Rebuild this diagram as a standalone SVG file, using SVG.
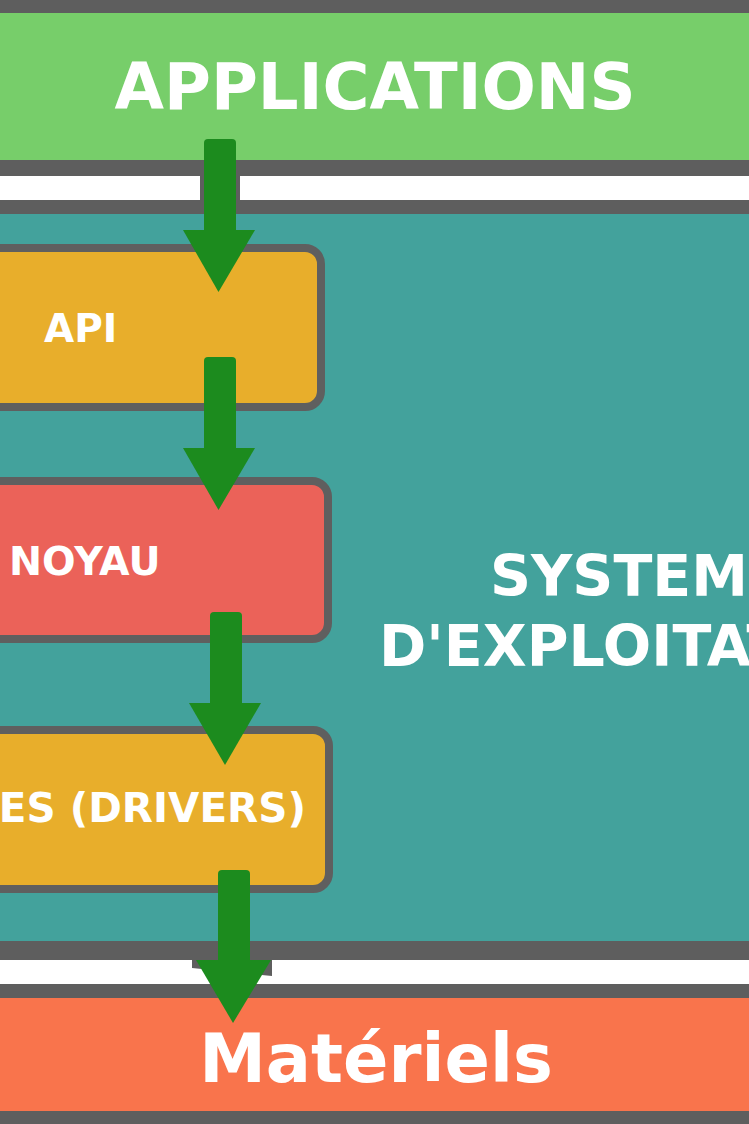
<svg xmlns="http://www.w3.org/2000/svg" width="749" height="1124" viewBox="0 0 749 1124">
<style>
.lbl{font-family:"DejaVu Sans","Liberation Sans",sans-serif;font-weight:bold;fill:#ffffff}
.box{stroke:#5f5f5f;stroke-width:8}
.shaft,.head{fill:#1c8b1e}
.gray{fill:#5e5e5e}
</style>
<rect x="0" y="0" width="749" height="1124" fill="#ffffff"/>
<g id="applications">
<rect class="gray" x="0" y="0" width="749" height="13"/>
<rect x="0" y="13" width="749" height="147" fill="#77ce6a"/>
<rect class="gray" x="0" y="160" width="749" height="16"/>
<text class="lbl" x="375" y="109" font-size="64" text-anchor="middle">APPLICATIONS</text>
</g>
<g id="systeme">
<rect class="gray" x="0" y="200" width="749" height="14"/>
<rect x="0" y="214" width="749" height="728" fill="#43a29c"/>
<rect class="gray" x="0" y="941" width="749" height="19"/>
<text class="lbl" x="490" y="596" font-size="57">SYSTEM</text>
<text class="lbl" x="379" y="666" font-size="57">D'EXPLOITAT</text>
</g>
<g id="api">
<rect class="box" x="-40" y="248" width="361" height="159" rx="16" fill="#e8ae2b"/>
<text class="lbl" x="44" y="342" font-size="39">API</text>
</g>
<g id="noyau">
<rect class="box" x="-40" y="481" width="368" height="158" rx="16" fill="#eb6259"/>
<text class="lbl" x="9" y="575" font-size="39.5">NOYAU</text>
</g>
<g id="drivers">
<rect class="box" x="-40" y="730" width="369" height="159" rx="16" fill="#e8ae2b"/>
<text class="lbl" x="306" y="822" font-size="40.5" text-anchor="end">ES (DRIVERS)</text>
</g>
<g id="materiels">
<rect class="gray" x="0" y="984" width="749" height="14"/>
<rect x="0" y="998" width="749" height="113" fill="#f9744c"/>
<rect class="gray" x="0" y="1111" width="749" height="13"/>
<text class="lbl" x="376" y="1082" font-size="67" text-anchor="middle">Matériels</text>
</g>
<g id="connectors">
<rect class="gray" x="200" y="176" width="40" height="24"/>
<polygon class="gray" points="192,960 272,960 272,976 192,968"/>
<rect class="shaft" x="204" y="139" width="32" height="95" rx="4"/>
<polygon class="head" points="183,230 255,230 218.5,292"/>
<rect class="shaft" x="204" y="357" width="32" height="95" rx="4"/>
<polygon class="head" points="183,448 255,448 218.5,510"/>
<rect class="shaft" x="210" y="612" width="32" height="95" rx="4"/>
<polygon class="head" points="189,703 261,703 225,765"/>
<rect class="shaft" x="218" y="870" width="32" height="94" rx="4"/>
<polygon class="head" points="196,960 271,960 233,1023"/>
</g>
</svg>
